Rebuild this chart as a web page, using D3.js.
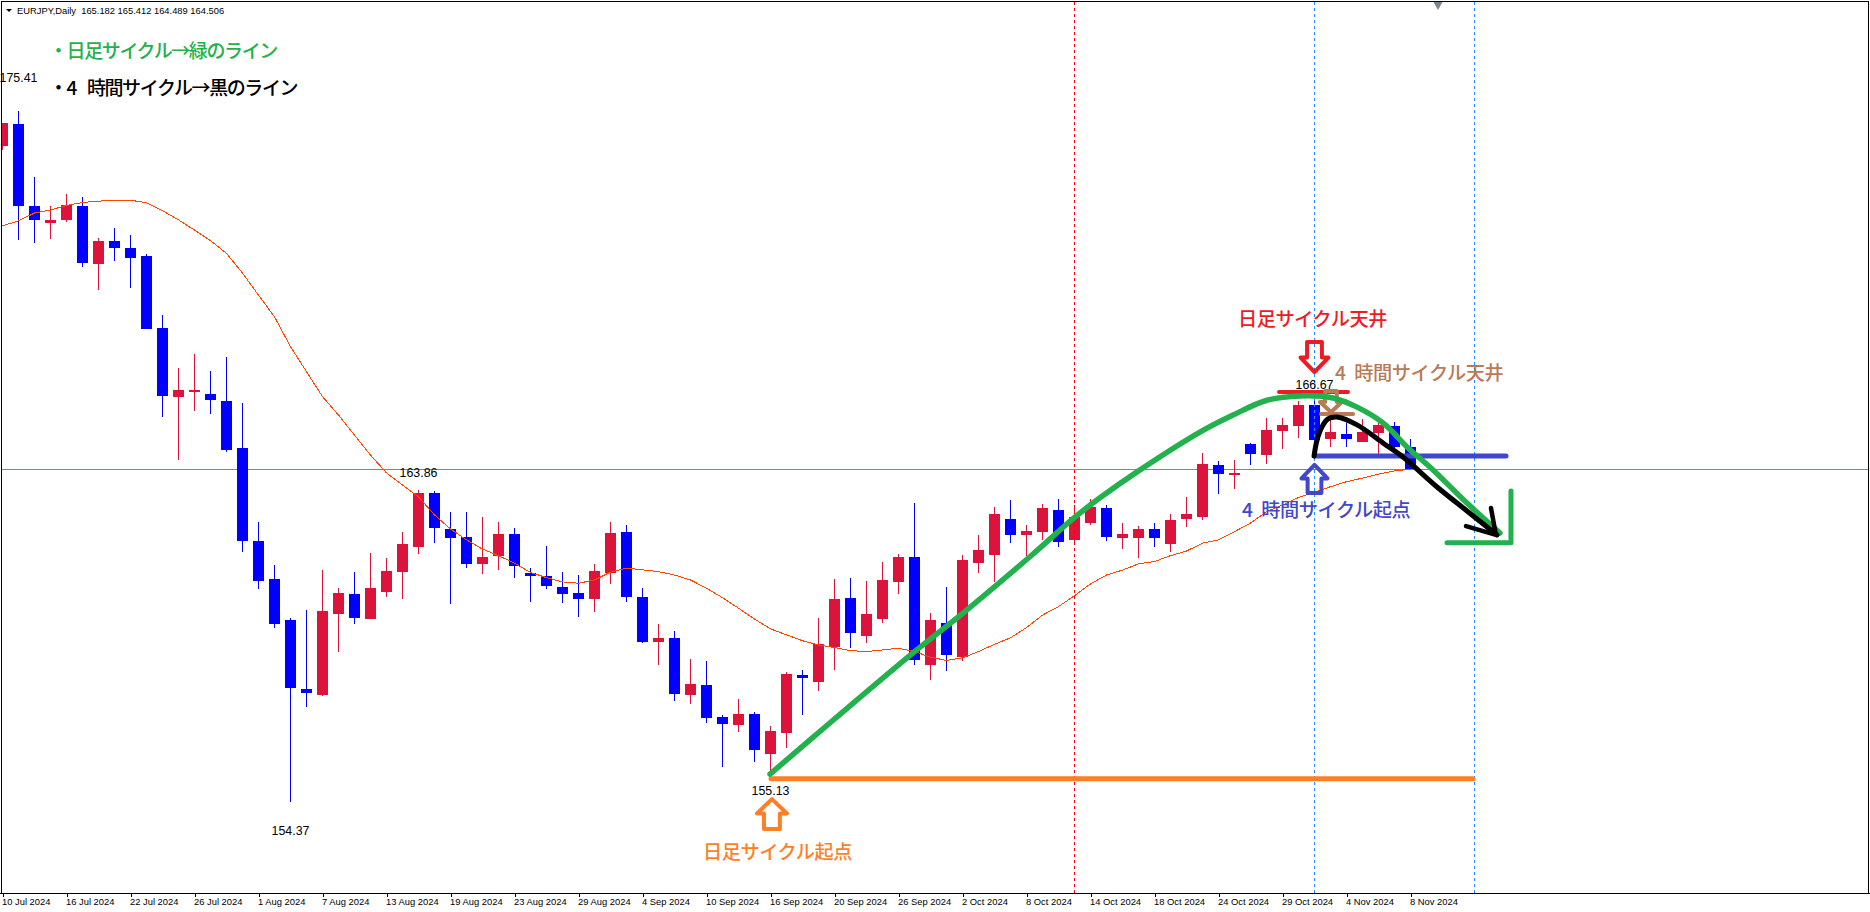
<!DOCTYPE html>
<html>
<head>
<meta charset="utf-8">
<script src="https://cdnjs.cloudflare.com/ajax/libs/d3/7.8.5/d3.min.js"></script>
<style>
  html, body { margin: 0; padding: 0; background: #fff; }
  svg { display: block; }
</style>
</head>
<body>
<svg id="chart"></svg>
<script>
const WIDTH = 1870;
const HEIGHT = 912;

const tickLabels = ["10 Jul 2024", "16 Jul 2024", "22 Jul 2024", "26 Jul 2024", "1 Aug 2024", "7 Aug 2024",
  "13 Aug 2024", "19 Aug 2024", "23 Aug 2024", "29 Aug 2024", "4 Sep 2024", "10 Sep 2024", "16 Sep 2024",
  "20 Sep 2024", "26 Sep 2024", "2 Oct 2024", "8 Oct 2024", "14 Oct 2024", "18 Oct 2024", "24 Oct 2024",
  "29 Oct 2024", "4 Nov 2024", "8 Nov 2024"];

// daily candles (red = up, blue = down)
const opens = [174.33, 175.00, 172.50, 171.99, 172.08, 172.50, 170.74, 171.44, 171.23, 170.98,
  168.79, 166.69, 166.84, 166.78, 166.57, 165.14, 162.31, 161.15, 159.90, 157.80,
  157.62, 160.08, 160.69, 159.93, 160.75, 161.36, 162.12, 163.77, 162.67, 162.43,
  161.61, 161.85, 162.52, 161.33, 161.24, 160.91, 160.72, 160.54, 161.33, 162.58,
  160.60, 159.23, 159.35, 157.62, 157.92, 156.95, 156.71, 157.04, 155.82, 156.46,
  158.22, 158.01, 159.08, 160.57, 159.41, 159.93, 161.06, 161.82, 158.53, 159.81,
  158.77, 161.64, 161.88, 162.98, 162.49, 162.58, 163.25, 162.34, 162.85, 163.31,
  162.40, 162.40, 162.67, 162.21, 162.98, 163.04, 164.62, 164.32, 165.26, 164.92,
  165.66, 165.81, 166.45, 165.41, 165.56, 165.32, 165.59, 165.81, 165.18];
const highs = [175.03, 175.40, 173.39, 172.50, 172.87, 172.78, 171.53, 171.83, 171.62, 171.04,
  169.19, 167.57, 168.00, 167.48, 167.91, 166.51, 162.88, 161.58, 159.96, 160.21,
  161.42, 160.88, 161.36, 161.94, 161.79, 162.58, 163.86, 163.83, 163.19, 163.19,
  163.04, 162.88, 162.70, 161.49, 162.15, 161.36, 161.27, 161.61, 162.88, 162.79,
  160.88, 159.78, 159.57, 158.71, 158.65, 157.01, 157.50, 157.10, 156.67, 158.32,
  158.38, 159.96, 161.15, 161.18, 161.09, 161.67, 161.91, 163.46, 160.11, 160.91,
  161.88, 162.49, 163.34, 163.55, 162.79, 163.43, 163.58, 163.40, 163.58, 163.40,
  162.85, 162.76, 162.85, 163.13, 163.64, 164.98, 164.74, 164.77, 165.29, 166.05,
  166.05, 166.57, 166.67, 166.14, 165.90, 166.02, 165.93, 165.93, 165.41];
const lows = [174.21, 171.47, 171.38, 171.50, 172.02, 170.65, 169.95, 170.83, 170.01, 168.76,
  166.08, 164.77, 166.26, 166.17, 165.02, 161.97, 160.84, 159.66, 154.37, 157.25,
  157.59, 158.93, 159.78, 159.93, 160.60, 160.54, 161.91, 162.25, 160.39, 161.49,
  161.30, 161.42, 161.18, 160.45, 160.84, 160.42, 159.99, 160.14, 161.00, 160.45,
  159.20, 158.53, 157.44, 157.34, 156.77, 155.43, 156.49, 155.57, 155.13, 156.00,
  157.01, 157.74, 158.38, 159.05, 159.20, 159.81, 160.69, 158.53, 158.08, 158.35,
  158.65, 161.33, 161.06, 162.25, 161.85, 162.34, 162.12, 162.19, 162.79, 162.31,
  162.06, 161.79, 162.12, 161.97, 162.73, 162.95, 163.74, 163.89, 164.62, 164.65,
  165.11, 165.44, 165.11, 165.17, 165.17, 165.32, 164.95, 164.98, 164.49];
const closes = [175.03, 172.50, 172.08, 172.08, 172.53, 170.77, 171.44, 171.23, 170.92, 168.76,
  166.72, 166.90, 166.90, 166.60, 165.08, 162.31, 161.09, 159.78, 157.83, 157.68,
  160.18, 160.72, 159.96, 160.88, 161.39, 162.21, 163.77, 162.70, 162.40, 161.61,
  161.82, 162.52, 161.55, 161.24, 160.93, 160.69, 160.54, 161.39, 162.55, 160.60,
  159.23, 159.35, 157.65, 157.95, 156.92, 156.74, 157.04, 155.94, 156.52, 158.26,
  158.13, 159.17, 160.54, 159.50, 160.08, 161.12, 161.82, 158.68, 159.90, 158.83,
  161.73, 162.03, 163.13, 162.49, 162.61, 163.31, 162.27, 163.04, 163.34, 162.43,
  162.52, 162.67, 162.40, 162.95, 163.13, 164.65, 164.35, 164.38, 164.95, 165.69,
  165.84, 166.45, 165.38, 165.62, 165.41, 165.62, 165.84, 165.17, 164.51];
const maValues = [171.90, 172.05, 172.29, 172.38, 172.52, 172.61, 172.65, 172.68, 172.68, 172.60,
  172.36, 172.08, 171.77, 171.45, 171.06, 170.46, 169.79, 169.13, 168.22, 167.46,
  166.70, 166.14, 165.53, 164.92, 164.38, 164.01, 163.65, 163.10, 162.67, 162.34,
  162.06, 161.86, 161.63, 161.35, 161.19, 161.06, 161.02, 161.12, 161.36, 161.48,
  161.43, 161.37, 161.27, 161.12, 160.87, 160.58, 160.26, 159.93, 159.63, 159.45,
  159.27, 159.14, 159.06, 158.97, 158.94, 158.99, 159.04, 158.94, 158.77, 158.67,
  158.75, 158.94, 159.16, 159.36, 159.67, 160.05, 160.31, 160.64, 161.00, 161.27,
  161.42, 161.61, 161.68, 161.86, 162.00, 162.24, 162.34, 162.59, 162.85, 163.20,
  163.40, 163.63, 163.79, 163.96, 164.11, 164.22, 164.34, 164.44, 164.49];

const lastPrice = 164.506;
const redLines = [67];
const blueLines = [82, 92];
const triangleBar = 89.72;

// hand drawn lines, [bar, price]
const greenCurve = [[47.97, 155.21], [51.91, 156.85], [56.91, 158.90], [60.28, 160.21], [64.41, 161.91],
  [66.97, 163.01], [68.59, 163.62], [70.91, 164.41], [74.84, 165.62], [76.91, 166.14], [79.03, 166.59],
  [81.09, 166.72], [83.16, 166.66], [84.66, 166.38], [86.28, 165.90], [87.78, 165.17], [89.41, 164.47],
  [91.53, 163.46], [93.59, 162.55]];
const blackCurve = [[81.97, 164.89], [82.16, 165.38], [82.47, 165.78], [82.84, 166.02], [83.41, 166.08],
  [84.66, 165.84], [86.28, 165.29], [87.53, 164.86], [89.66, 163.95], [91.53, 163.22], [93.41, 162.49]];
const blackHead = [[93.03, 163.31], [93.34, 162.49], [91.47, 162.76]];
const greenHead = [[94.28, 163.83], [94.28, 162.25], [90.28, 162.25]];
const orangeLine = [[48.03, 155.07], [91.91, 155.07]];
const redLine = [[79.78, 166.84], [84.09, 166.84]];
const brownLine = [[82.41, 166.17], [84.41, 166.17]];
const blueLine = [[82.03, 164.89], [93.97, 164.89]];

const svg = d3.select("#chart").attr("width", WIDTH).attr("height", HEIGHT);

const xScale = d3.scaleLinear().domain([0, 88]).range([2.5, 1410.5]);
const yScale = d3.scaleLinear().domain([154.37, 175.41]).range([801.7, 110.5]);
const py = (v) => Math.round(yScale(v));

const UP = "#dc143c";
const DOWN = "#0000ff";
const MONO = "'Liberation Sans', Arial, sans-serif";
const CJK = "'Noto Sans CJK JP', sans-serif";

svg.append("defs").append("clipPath").attr("id", "plot")
  .append("rect").attr("x", 2).attr("y", 2).attr("width", WIDTH - 4).attr("height", 891);

// frame
svg.append("rect").attr("x", 1.5).attr("y", 1.5).attr("width", WIDTH - 3).attr("height", 892)
  .attr("fill", "none").attr("stroke", "#000").attr("shape-rendering", "crispEdges");

const plot = svg.append("g").attr("clip-path", "url(#plot)");

// current price line
plot.append("line").attr("x1", 0).attr("x2", WIDTH)
  .attr("y1", py(lastPrice) + 0.5).attr("y2", py(lastPrice) + 0.5)
  .attr("stroke", "#778899").attr("shape-rendering", "crispEdges");

// candles
const candles = opens.map((open, i) => ({ i, open, high: highs[i], low: lows[i], close: closes[i] }));
const candle = plot.append("g").attr("shape-rendering", "crispEdges").selectAll("g").data(candles).join("g");
candle.append("rect")
  .attr("x", (d) => Math.floor(xScale(d.i)))
  .attr("width", 1)
  .attr("y", (d) => py(d.high))
  .attr("height", (d) => py(d.low) - py(d.high))
  .attr("fill", (d) => (d.close >= d.open ? UP : DOWN));
candle.append("rect")
  .attr("x", (d) => Math.floor(xScale(d.i)) - 5)
  .attr("width", 11)
  .attr("y", (d) => py(Math.max(d.open, d.close)))
  .attr("height", (d) => Math.max(2, py(Math.min(d.open, d.close)) - py(Math.max(d.open, d.close))))
  .attr("fill", (d) => (d.close >= d.open ? UP : DOWN));

// moving average
plot.append("path").datum(maValues)
  .attr("d", d3.line().x((d, i) => xScale(i)).y((d) => yScale(d)))
  .attr("fill", "none").attr("stroke", "#ff4500").attr("stroke-width", 1)
  .attr("shape-rendering", "crispEdges");

// vertical period separators
const vlines = redLines.map((b) => [b, "#ff0000"]).concat(blueLines.map((b) => [b, "#1e90ff"]));
plot.selectAll("line.v").data(vlines).join("line").attr("class", "v")
  .attr("x1", (d) => xScale(d[0])).attr("x2", (d) => xScale(d[0]))
  .attr("y1", 2).attr("y2", 893)
  .attr("stroke", (d) => d[1]).attr("stroke-dasharray", "3,3")
  .attr("shape-rendering", "crispEdges");

// small marker on the top edge
plot.append("path")
  .attr("d", d3.symbol(d3.symbolTriangle, 45))
  .attr("transform", `translate(${xScale(triangleBar)},4) rotate(180)`)
  .attr("fill", "#778899");

// time axis
const xAxis = d3.axisBottom(xScale)
  .tickValues(tickLabels.map((d, i) => i * 4))
  .tickFormat((d) => tickLabels[d / 4])
  .tickSize(4)
  .tickSizeOuter(0);
const axisG = svg.append("g").attr("transform", "translate(0,893)").call(xAxis);
axisG.select(".domain").attr("stroke", "#000").attr("shape-rendering", "crispEdges").attr("d", `M0,0.5H${WIDTH}`);
axisG.selectAll(".tick line").attr("shape-rendering", "crispEdges").attr("stroke", "#000");
axisG.selectAll(".tick text")
  .attr("text-anchor", "start").attr("x", -1).attr("y", 5).attr("dy", "0.71em")
  .attr("font-family", MONO).attr("font-size", 9.4).attr("fill", "#000");

// header
svg.append("path").attr("d", "M6,9H12L9,12Z").attr("fill", "#000");
svg.append("text").attr("x", 17).attr("y", 13.5)
  .attr("font-family", MONO).attr("font-size", 9.35).attr("fill", "#000")
  .style("white-space", "pre")
  .text("EURJPY,Daily  165.182 165.412 164.489 164.506");

// high / low labels
const priceLabels = [[1, 175.41, -29], [26, 163.86, -13], [82, 166.67, -9], [18, 154.37, 33.5], [48, 155.13, 18]];
svg.selectAll("text.pl").data(priceLabels).join("text").attr("class", "pl")
  .attr("x", (d) => xScale(d[0])).attr("y", (d) => yScale(d[1]) + d[2])
  .attr("text-anchor", "middle").attr("font-family", MONO).attr("font-size", 12.4).attr("fill", "#000")
  .text((d) => d[1].toFixed(2));

// drawn lines
const straight = d3.line().x((d) => xScale(d[0])).y((d) => yScale(d[1]));
const smooth = d3.line().x((d) => xScale(d[0])).y((d) => yScale(d[1])).curve(d3.curveCatmullRom);
const lineStyles = [
  [orangeLine, "#ff7f27", 5], [redLine, "#ed1c24", 4], [brownLine, "#b97a57", 4], [blueLine, "#3f48cc", 5],
];
lineStyles.forEach(([pts, color, w]) => {
  svg.append("path").attr("d", straight(pts))
    .attr("fill", "none").attr("stroke", color).attr("stroke-width", w).attr("stroke-linecap", "round");
});

// hollow arrows: bar, price of the tip, direction, half width, height, colour
const arrows = [
  [82, 167.45, -1, 14, 30, "#ed1c24"],
  [82, 164.62, 1, 13, 28, "#3f48cc"],
  [48.09, 154.45, 1, 15, 30, "#ff7f27"],
  [83.03, 166.23, -1, 11, 21, "#b97a57"],
];
arrows.forEach(([bar, price, dir, hw, h, color]) => {
  const cx = xScale(bar);
  const cy = yScale(price);
  const pts = [[0, 0], [hw, h * 0.48], [hw * 0.53, h * 0.48], [hw * 0.53, h], [-hw * 0.53, h], [-hw * 0.53, h * 0.48], [-hw, h * 0.48]];
  svg.append("polygon")
    .attr("points", pts.map((p) => `${cx + p[0]},${cy + dir * p[1]}`).join(" "))
    .attr("fill", "none").attr("stroke", color).attr("stroke-width", 4).attr("stroke-linejoin", "round");
});

svg.append("path").attr("d", smooth(greenCurve))
  .attr("fill", "none").attr("stroke", "#22b14c").attr("stroke-width", 5.5).attr("stroke-linecap", "round");
svg.append("path").attr("d", smooth(blackCurve))
  .attr("fill", "none").attr("stroke", "#000").attr("stroke-width", 5).attr("stroke-linecap", "round");
svg.append("path").attr("d", straight(blackHead))
  .attr("fill", "none").attr("stroke", "#000").attr("stroke-width", 4.5).attr("stroke-linecap", "round").attr("stroke-linejoin", "round");
svg.append("path").attr("d", straight(greenHead))
  .attr("fill", "none").attr("stroke", "#22b14c").attr("stroke-width", 5).attr("stroke-linecap", "round").attr("stroke-linejoin", "round");

// notes: text, x, y, colour, size, letter spacing, word spacing
const notes = [
  ["・日足サイクル→緑のライン", 49, 57.5, "#22b14c", 19, -1.4, 0],
  ["・4 時間サイクル→黒のライン", 49, 94.5, "#000000", 19, -1.4, 8],
  ["日足サイクル天井", 1238, 326, "#ed1c24", 19.2, -0.45, 0],
  ["4 時間サイクル天井", 1335, 380, "#b97a57", 19.2, -0.45, 5],
  ["4 時間サイクル起点", 1242, 517, "#3f48cc", 19.2, -0.45, 5],
  ["日足サイクル起点", 703, 859, "#ff7f27", 19.2, -0.45, 0],
];
svg.selectAll("text.note").data(notes).join("text").attr("class", "note")
  .attr("x", (d) => d[1]).attr("y", (d) => d[2]).attr("fill", (d) => d[3])
  .attr("font-family", CJK).attr("font-weight", 500)
  .attr("font-size", (d) => d[4])
  .style("letter-spacing", (d) => d[5] + "px")
  .style("word-spacing", (d) => d[6] + "px")
  .text((d) => d[0]);
</script>
</body>
</html>
